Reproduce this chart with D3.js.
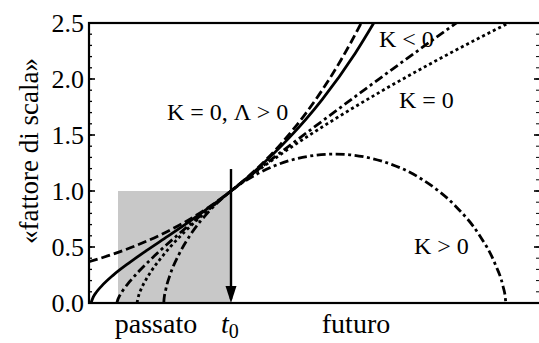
<!DOCTYPE html>
<html lang="it">
<head>
<meta charset="UTF-8">
<title>fattore di scala</title>
<script src="https://d3js.org/d3.v7.min.js"></script>
<style>
  body { margin: 0; background: #fff; }
</style>
</head>
<body>
<script>
    // tempo relativo a t0 (t0 = 0), fattore di scala a(t)
    const yTicks = [0, 0.5, 1.0, 1.5, 2.0, 2.5];

    // K = 0, Λ > 0 (tratteggiata)
    const tLambda = [-1.42, -1.2, -1.0, -0.7, -0.5, -0.25, 0, 0.25, 0.5, 0.75, 0.9, 1.1, 1.3, 1.4];
    const aLambda = [0.368, 0.430, 0.495, 0.611, 0.703, 0.839, 1.0, 1.192, 1.421, 1.696, 1.885, 2.17, 2.497, 2.68];

    // curva continua
    const tSolid = [-1.40, -1.378, -1.345, -1.29, -1.18, -1.015, -0.85, -0.63, -0.41, -0.19, 0, 0.251, 0.581, 0.911, 1.241, 1.461];
    const aSolid = [0.0, 0.053, 0.098, 0.155, 0.247, 0.361, 0.465, 0.597, 0.731, 0.871, 1.0, 1.188, 1.474, 1.816, 2.228, 2.55];

    // K < 0 (tratto-punto)
    const tOpen = [-1.141, -1.133, -1.115, -1.078, -1.014, -0.914, -0.765, -0.553, -0.259, 0, 0.141, 0.807, 1.394, 2.126, 2.336];
    const aOpen = [0.0, 0.027, 0.063, 0.116, 0.190, 0.290, 0.421, 0.592, 0.814, 1.0, 1.100, 1.554, 1.943, 2.419, 2.553];

    // K = 0 (punteggiata)
    const tFlat = [-0.94, -0.92, -0.90, -0.85, -0.80, -0.70, -0.60, -0.40, -0.20, 0, 0.5, 1.0, 1.5, 2.0, 2.5, 2.8];
    const aFlat = [0.0, 0.077, 0.122, 0.209, 0.281, 0.402, 0.508, 0.691, 0.852, 1.0, 1.329, 1.621, 1.889, 2.139, 2.375, 2.51];

    // K > 0 (tratto-punto)
    const tClosed = [-0.672, -0.670, -0.653, -0.609, -0.526, -0.399, -0.222, 0, 0.267, 0.565, 1.038, 1.528, 1.917, 2.241, 2.483, 2.639, 2.720, 2.743, 2.748];
    const aClosed = [0.0, 0.030, 0.116, 0.252, 0.424, 0.618, 0.816, 1.0, 1.155, 1.266, 1.330, 1.261, 1.100, 0.869, 0.607, 0.353, 0.149, 0.048, 0.0];

    const W = 539, H = 343;
    const mLeft = 89, mRight = 539, mTop = 23, mBottom = 303;
    const serif = "'Liberation Serif', 'Times New Roman', Times, serif";

    const x = d3.scaleLinear().domain([-1.42, 3.08]).range([mLeft, mRight]);
    const y = d3.scaleLinear().domain([0, 2.5]).range([mBottom, mTop]);

    const svg = d3.select("body").append("svg")
        .attr("width", W)
        .attr("height", H)
        .attr("font-family", serif);

    svg.append("defs").append("clipPath").attr("id", "plot")
        .append("rect")
        .attr("x", mLeft).attr("y", mTop)
        .attr("width", mRight - mLeft).attr("height", mBottom - mTop);

    // rettangolo grigio (passato)
    svg.append("rect")
        .attr("x", x(-1.13))
        .attr("y", y(1.0))
        .attr("width", x(0) - x(-1.13))
        .attr("height", y(0) - y(1.0))
        .attr("fill", "#c8c8c8");

    const line = d3.line()
        .x(d => x(d[0]))
        .y(d => y(d[1]))
        .curve(d3.curveMonotoneX);

    const series = [
        { t: tLambda, a: aLambda, dash: "9,4" },
        { t: tSolid, a: aSolid, dash: null },
        { t: tOpen, a: aOpen, dash: "9,3.5,3,3.5" },
        { t: tFlat, a: aFlat, dash: "3,3" },
        { t: tClosed, a: aClosed, dash: "9,3.5,3,3.5" }
    ];

    const g = svg.append("g").attr("clip-path", "url(#plot)");
    series.forEach(s => {
        g.append("path")
            .datum(s.t.map((t, i) => [t, s.a[i]]))
            .attr("d", line)
            .attr("fill", "none")
            .attr("stroke", "#000")
            .attr("stroke-width", 2.8)
            .attr("stroke-dasharray", s.dash);
    });

    // freccia su t0
    svg.append("line")
        .attr("x1", x(0)).attr("x2", x(0))
        .attr("y1", y(1.196)).attr("y2", y(0) - 4)
        .attr("stroke", "#000")
        .attr("stroke-width", 2.4);
    svg.append("path")
        .attr("d", `M${x(0) - 5.5},${y(0) - 17} L${x(0) + 5.5},${y(0) - 17} L${x(0)},${y(0)} Z`)
        .attr("fill", "#000");

    // cornice
    svg.append("rect")
        .attr("x", mLeft).attr("y", mTop)
        .attr("width", mRight - mLeft + 3).attr("height", mBottom - mTop)
        .attr("fill", "none")
        .attr("stroke", "#000")
        .attr("stroke-width", 2.2);

    // tacche asse y
    const minor = d3.range(0, 2.51, 0.1);
    const tick = (xPos, len, vals, w) => {
        svg.append("g").selectAll("line")
            .data(vals)
            .join("line")
            .attr("x1", xPos).attr("x2", xPos + len)
            .attr("y1", d => y(d)).attr("y2", d => y(d))
            .attr("stroke", "#000")
            .attr("stroke-width", w);
    };
    tick(mLeft, 3, minor, 1.3);
    tick(mLeft, 6, yTicks, 1.6);
    tick(mRight, -3, minor, 1.0);
    tick(mRight, -5, yTicks, 1.6);

    svg.append("g").selectAll("text")
        .data(yTicks)
        .join("text")
        .attr("x", mLeft - 5)
        .attr("y", d => y(d) + 9)
        .attr("text-anchor", "end")
        .attr("font-size", 26)
        .text(d3.format(".1f"));

    // etichetta asse y
    svg.append("text")
        .attr("transform", "translate(38,151) rotate(-90)")
        .attr("text-anchor", "middle")
        .attr("font-size", 27)
        .text("«fattore di scala»");

    // etichette asse x
    svg.append("text")
        .attr("x", 156).attr("y", 333)
        .attr("text-anchor", "middle")
        .attr("font-size", 28)
        .text("passato");

    const t0 = svg.append("text")
        .attr("x", x(0) - 10).attr("y", 333)
        .attr("font-size", 28);
    t0.append("tspan").attr("font-style", "italic").text("t");
    t0.append("tspan").attr("font-size", 20).attr("dy", 5).text("0");

    svg.append("text")
        .attr("x", 356).attr("y", 333)
        .attr("text-anchor", "middle")
        .attr("font-size", 28)
        .text("futuro");

    // etichette curve
    const labels = [
        { text: "K = 0, Λ > 0", lx: 167, ly: 120 },
        { text: "K < 0", lx: 379, ly: 47 },
        { text: "K = 0", lx: 399, ly: 108 },
        { text: "K > 0", lx: 414, ly: 254 }
    ];
    svg.append("g").selectAll("text")
        .data(labels)
        .join("text")
        .attr("x", d => d.lx)
        .attr("y", d => d.ly)
        .attr("font-size", 24)
        .text(d => d.text);
</script>
</body>
</html>
